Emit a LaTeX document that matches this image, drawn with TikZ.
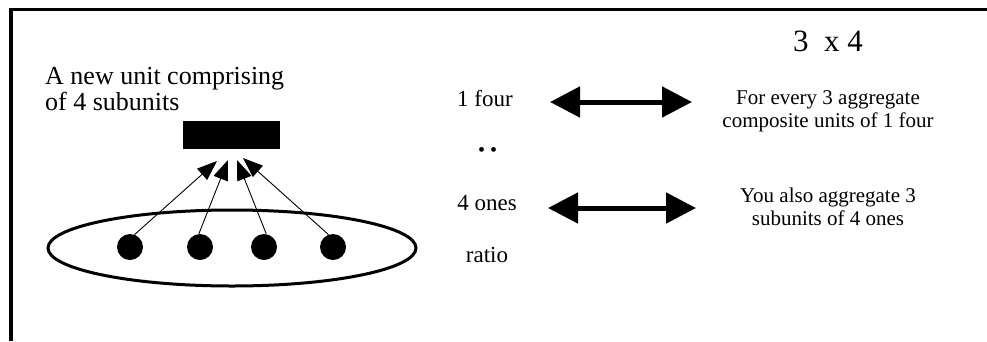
\documentclass[tikz,border=0pt]{standalone}
\usepackage{fontspec}
\setmainfont{Liberation Serif}
\usetikzlibrary{arrows.meta,shapes.geometric}

\begin{document}
\begin{tikzpicture}[x=1pt,y=-1pt,word/.style={inner sep=0pt,font=\fontsize{23}{23}\selectfont},note/.style={inner sep=0pt,align=center,font=\fontsize{21}{23}\selectfont},dot/.style={circle,fill,inner sep=0pt,minimum size=26pt},link/.style={-{Triangle[length=20pt,width=15pt]},line width=.9pt},swap/.style={{Triangle[length=30pt,width=30pt]}-{Triangle[length=30pt,width=30pt]},line width=5pt}]
\useasboundingbox (0,0) rectangle (987,341);
\draw[line width=3.5pt] (10.8,341) -- (10.8,9.7) -- (987,9.7);
% left: the composite unit and its subunits
\node[anchor=north west,align=left,inner sep=0pt,font=\fontsize{26}{26}\selectfont] (caption) at (45,67) {A new unit comprising\\of 4 subunits};
\node[fill,minimum width=97pt,minimum height=28pt,inner sep=0pt] (unit) at (231.5,135) {};
\node[draw,ellipse,line width=3pt,minimum width=368pt,minimum height=76pt,inner sep=0pt] (group) at (232,248) {};
\node[dot] (d1) at (130,247) {}; \node[dot] (d2) at (200,247) {}; \node[dot] (d3) at (264,247) {}; \node[dot] (d4) at (333,247) {};
\coordinate (t1) at (217,161); \coordinate (t2) at (228,160); \coordinate (t3) at (237,160); \coordinate (t4) at (243,158);
\draw[link] (d1.70) -- (t1); \draw[link] (d2.95) -- (t2); \draw[link] (d3.80) -- (t3); \draw[link] (d4.110) -- (t4);
% middle column
\node[word,anchor=base] (four) at (485,106) {1 four};
\node[word,anchor=base,font=\fontsize{20}{20}\selectfont] (dots) at (487.5,156.5) {• •};
\node[word,anchor=base] (ones) at (487,210) {4 ones};
\node[word,anchor=base] (ratio) at (487,262) {ratio};
% right column
\node[anchor=base,inner sep=0pt,font=\fontsize{31}{31}\selectfont] (product) at (828,51) {3 \ x 4};
\node[note,anchor=north] (every) at (828,90) {For every 3 aggregate\\composite units of 1 four};
\node[note,anchor=north] (also) at (828,188) {You also aggregate 3\\subunits of 4 ones};
\coordinate (s1) at (550,102); \coordinate (e1) at (692,102);
\coordinate (s2) at (548,208); \coordinate (e2) at (696,208);
\draw[swap] (s1) -- (e1); \draw[swap] (s2) -- (e2);
\end{tikzpicture}
\end{document}
